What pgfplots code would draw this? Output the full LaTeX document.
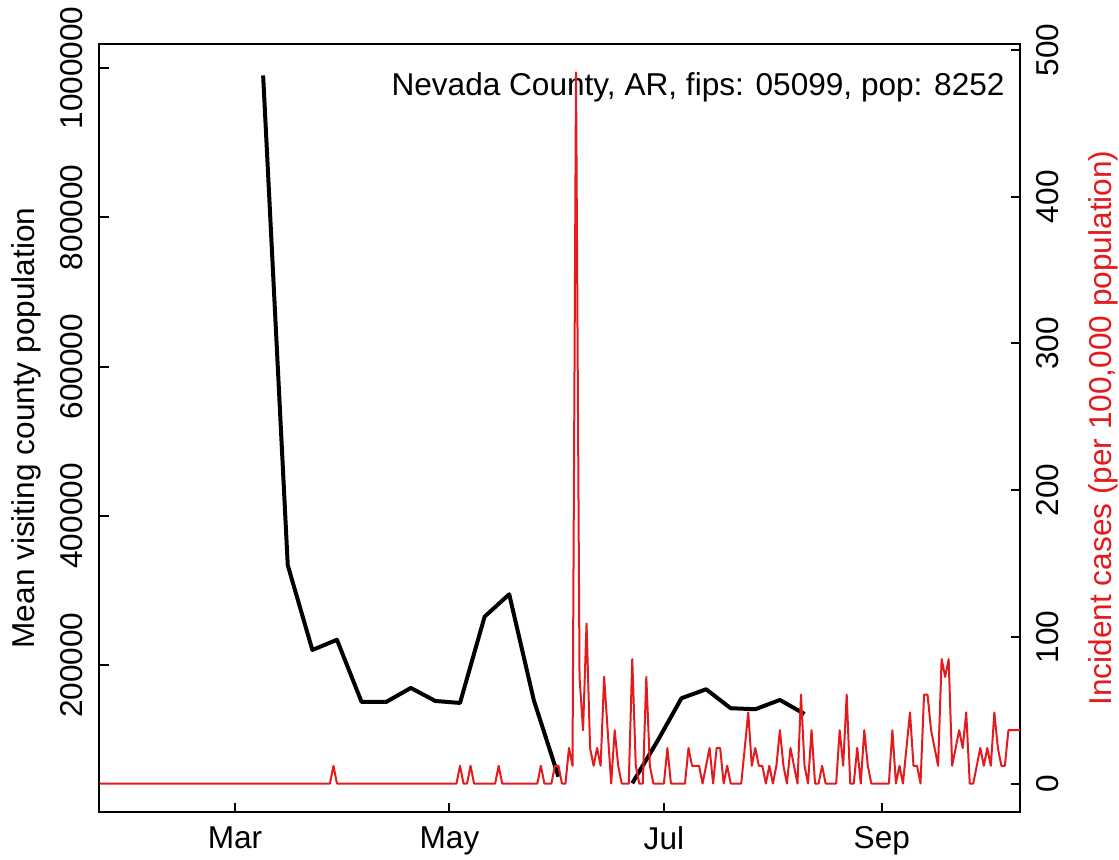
\documentclass[border=0pt]{standalone}
\usepackage{pgfplots}
\pgfplotsset{compat=1.18}
\usepackage{pgfplotstable}
\usepackage{fontspec}
\setmainfont{Liberation Sans}
\definecolor{rred}{RGB}{228,26,28}

\pgfplotstableread{
d v
69 990000
76 334000
83 220400
90 234000
97 150700
104 150700
111 169500
118 152000
125 149400
132 265000
139 295000
146 153000
153 50600
160 nan
174 41800
181 97000
188 155700
195 167700
202 142300
209 141000
216 153400
223 134600
}\blackdata

\pgfplotstableread{
d v
22 0
88 0
89 12.12
90 0
124 0
125 12.12
126 0
127 0
128 12.12
129 0
135 0
136 12.12
137 0
147 0
148 12.12
149 0
151 0
152 12.12
153 12.12
154 0
155 0
156 24.24
157 12.12
158 484.73
159 72.71
160 36.35
161 109.06
162 24.24
163 12.12
164 24.24
165 12.12
166 72.71
167 36.35
168 0
169 36.35
170 12.12
171 0
173 0
174 84.83
175 12.12
176 0
177 0
178 72.71
179 12.12
180 0
183 0
184 24.24
185 0
189 0
190 24.24
191 12.12
192 12.12
193 12.12
194 0
195 12.12
196 24.24
197 0
198 24.24
199 24.24
200 0
201 12.12
202 0
205 0
206 24.24
207 48.47
208 12.12
209 24.24
210 12.12
211 12.12
212 0
213 12.12
214 0
215 12.12
216 36.35
217 12.12
218 0
219 24.24
220 12.12
221 0
222 60.59
223 12.12
224 0
225 36.35
226 0
227 0
228 12.12
229 0
232 0
233 36.35
234 12.12
235 60.59
236 0
237 0
238 24.24
239 0
240 36.35
241 12.12
242 0
247 0
248 36.35
249 0
250 12.12
251 0
252 24.24
253 48.47
254 12.12
255 12.12
256 0
257 60.59
258 60.59
259 36.35
260 24.24
261 12.12
262 84.83
263 72.71
264 84.83
265 12.12
266 24.24
267 36.35
268 24.24
269 48.47
270 0
271 0
272 12.12
273 24.24
274 12.12
275 24.24
276 12.12
277 48.47
278 24.24
279 12.12
280 12.12
281 36.35
286 36.35
}\reddata

\begin{document}
\begin{tikzpicture}[x=1pt,y=1pt,font=\fontsize{15.8}{19}\selectfont]
\path[use as bounding box] (0,0) rectangle (559.5,430);
\begin{axis}[
  at={(49.75pt,24pt)}, anchor=south west,
  scale only axis, width=460.25pt, height=384pt,
  xmin=22.45, xmax=284.3, ymin=3300, ymax=1032200,
  scaled y ticks=false, scaled x ticks=false,
  xtick={61,122,183,245}, xticklabels={Mar,May,Jul,Sep},
  ytick={200000,400000,600000,800000,1000000},
  yticklabels={200000,400000,600000,800000,1000000},
  xtick pos=bottom, ytick pos=left,
  tick align=inside, major tick length=4.5pt,
  axis line style={line width=1pt},
  every tick/.style={black, line width=1pt},
  xticklabel style={anchor=north, inner sep=0pt, inner ysep=7pt},
  yticklabel style={rotate=90, anchor=south, inner sep=0pt, inner ysep=8pt},
  ylabel={Mean visiting county population},
  every axis y label/.style={at={(axis description cs:-0.0701,0.5)}, rotate=90, anchor=base},
  unbounded coords=jump,
  /pgf/number format/assume math mode=true,
  font=\fontsize{15.8}{19}\selectfont,
]
\addplot[black, line width=2pt, line join=round] table[x=d, y=v] {\blackdata};
\node[anchor=base east, inner sep=0pt] at (axis description cs:0.9837,0.9323) {Nevada County, AR, fips: 05099, pop: 8252};
\end{axis}
\begin{axis}[
  at={(49.75pt,24pt)}, anchor=south west,
  scale only axis, width=460.25pt, height=384pt,
  xmin=22.45, xmax=284.3, ymin=-19.39, ymax=504.12,
  scaled y ticks=false,
  axis x line=none, axis y line*=right,
  ytick={0,100,200,300,400,500},
  yticklabels={0,100,200,300,400,500},
  tick align=inside, major tick length=4.5pt,
  axis line style={line width=1pt},
  every tick/.style={black, line width=1pt},
  yticklabel style={rotate=90, anchor=north, inner sep=0pt, inner ysep=8pt},
  ylabel={Incident cases (per 100,000 population)},
  every axis y label/.style={at={(axis description cs:1.0995,0.5)}, rotate=90, anchor=base, color=rred},
  /pgf/number format/assume math mode=true,
  font=\fontsize{15.8}{19}\selectfont,
]
\addplot[rred, line width=1pt, line join=round] table[x=d, y=v] {\reddata};
\end{axis}
\end{tikzpicture}
\end{document}
